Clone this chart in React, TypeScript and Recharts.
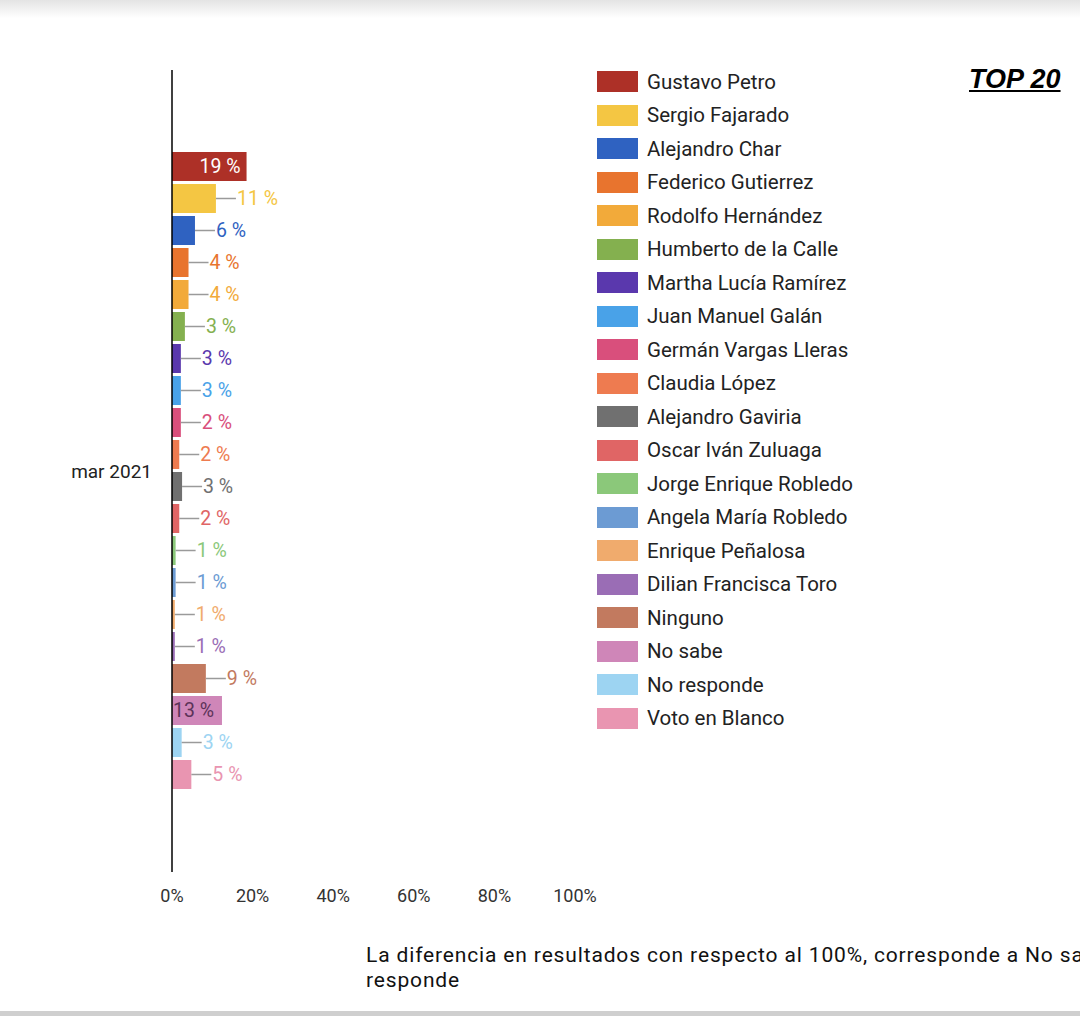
import { BarChart, Bar, XAxis, YAxis, LabelList } from 'recharts';

// Encuesta presidencial, top 20 (mar 2021)
const PERIODS = ['mar 2021'];

const CANDIDATES = [
  'Gustavo Petro',
  'Sergio Fajarado',
  'Alejandro Char',
  'Federico Gutierrez',
  'Rodolfo Hernández',
  'Humberto de la Calle',
  'Martha Lucía Ramírez',
  'Juan Manuel Galán',
  'Germán Vargas Lleras',
  'Claudia López',
  'Alejandro Gaviria',
  'Oscar Iván Zuluaga',
  'Jorge Enrique Robledo',
  'Angela María Robledo',
  'Enrique Peñalosa',
  'Dilian Francisca Toro',
  'Ninguno',
  'No sabe',
  'No responde',
  'Voto en Blanco',
];

// bar lengths
const SHARES = [18.5, 10.9, 5.7, 4.1, 4.1, 3.2, 2.2, 2.2, 2.2, 1.8, 2.5, 1.8, 0.9, 0.9, 0.7, 0.7, 8.4, 12.4, 2.4, 4.8];

// printed labels
const SHARE_LABELS = [19, 11, 6, 4, 4, 3, 3, 3, 2, 2, 3, 2, 1, 1, 1, 1, 9, 13, 3, 5];

const COLORS = [
  '#ad3027', '#f4c643', '#2f62c1', '#e8742e', '#f2aa3a', '#84b04f', '#5a38ad', '#49a2e8', '#d94f7c', '#ee7b50',
  '#707070', '#e06565', '#8bc87a', '#6c9bd3', '#f0ab6d', '#9a6db5', '#c27a5f', '#cf86b8', '#9dd4f2', '#e995b1',
];

const X_TICKS = [0, 20, 40, 60, 80, 100];

const FONT = 'Roboto, "Noto Sans", sans-serif';

const data = PERIODS.map(period => {
  const row: Record<string, string | number> = { period };
  CANDIDATES.forEach((name, i) => {
    row[name] = SHARES[i];
  });
  return row;
});

function renderLabel(props: any, i: number) {
  const vb = props.viewBox || {};
  const x = Number(props.x ?? vb.x);
  const y = Number(props.y ?? vb.y);
  const width = Number(props.width ?? vb.width);
  const height = Number(props.height ?? vb.height);
  const cy = y + height / 2;
  const text = `${SHARE_LABELS[i]} %`;
  const name = CANDIDATES[i];

  if (name === 'Gustavo Petro') {
    return (
      <text x={x + width - 6} y={cy} textAnchor="end" dominantBaseline="central" fill="#fff" fontSize={19.5} fontFamily={FONT}>
        {text}
      </text>
    );
  }
  if (name === 'No sabe') {
    return (
      <text x={x + 1} y={cy} textAnchor="start" dominantBaseline="central" fill="#5c3358" fontSize={19.5} fontFamily={FONT}>
        {text}
      </text>
    );
  }
  const end = x + width;
  return (
    <g>
      <line x1={end} y1={cy} x2={end + 20} y2={cy} stroke="#9a9a9a" strokeWidth={1.5} />
      <text x={end + 21} y={cy} textAnchor="start" dominantBaseline="central" fill={COLORS[i]} fontSize={19.5} fontFamily={FONT}>
        {text}
      </text>
    </g>
  );
}

export default function App() {
  return (
    <div style={{ position: 'absolute', top: 0, left: 0, width: 1080, height: 1016, background: '#fff', overflow: 'hidden', fontFamily: FONT }}>
      <div style={{ position: 'absolute', top: 0, left: 0, width: 1080, height: 18, background: 'linear-gradient(#e4e4e4, #ffffff)' }} />
      <div style={{ position: 'absolute', top: 1011, left: 0, width: 1080, height: 5, background: '#cfcfcf' }} />

      <BarChart
        width={1080}
        height={1016}
        data={data}
        layout="vertical"
        margin={{ top: 70, right: 505, bottom: 114, left: 0 }}
        barCategoryGap={82}
        barGap={3}
      >
        <XAxis
          type="number"
          domain={[0, 100]}
          ticks={X_TICKS}
          tickFormatter={v => `${v}%`}
          axisLine={false}
          tickLine={false}
          tickMargin={11}
          tick={{ fill: '#333', fontSize: 18, fontFamily: FONT }}
        />
        <YAxis
          type="category"
          dataKey="period"
          width={172}
          axisLine={{ stroke: '#000', strokeWidth: 1.5 }}
          tickLine={false}
          tickMargin={14}
          tick={{ fill: '#222', fontSize: 19, fontFamily: FONT }}
        />
        {CANDIDATES.map((name, i) => (
          <Bar key={name} dataKey={name} fill={COLORS[i]} isAnimationActive={false}>
            <LabelList dataKey={name} content={(p: any) => renderLabel(p, i)} />
          </Bar>
        ))}
      </BarChart>

      <div style={{ position: 'absolute', left: 597, top: 71 }}>
        {CANDIDATES.map((name, i) => (
          <div key={name} style={{ display: 'flex', alignItems: 'center', height: 33.5 }}>
            <div style={{ width: 41, height: 21, background: COLORS[i], marginRight: 9, marginTop: -12 }} />
            <span style={{ fontSize: 20.5, color: '#222', marginTop: -12 }}>{name}</span>
          </div>
        ))}
      </div>

      <div
        style={{
          position: 'absolute',
          left: 969,
          top: 64,
          fontFamily: '"Liberation Sans", Arial, sans-serif',
          fontWeight: 'bold',
          fontStyle: 'italic',
          fontSize: 27,
          textDecoration: 'underline',
          color: '#000',
        }}
      >
        TOP 20
      </div>

      <div
        style={{
          position: 'absolute',
          left: 366,
          top: 943,
          fontSize: 21,
          letterSpacing: 0.85,
          lineHeight: '25px',
          color: '#111',
          whiteSpace: 'nowrap',
        }}
      >
        La diferencia en resultados con respecto al 100%, corresponde a No sabe/No
        <br />
        responde
      </div>
    </div>
  );
}
